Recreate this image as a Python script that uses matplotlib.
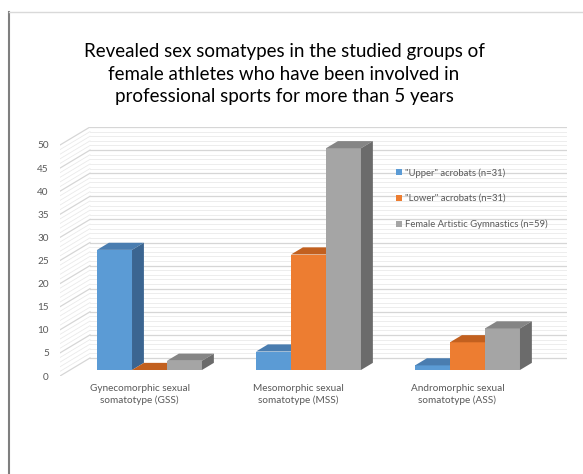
import matplotlib.pyplot as plt
from matplotlib.patches import Polygon, Patch
from matplotlib.lines import Line2D

plt.rcParams['font.family'] = ['Lato', 'DejaVu Sans']

categories = ['Gynecomorphic sexual\nsomatotype (GSS)',
              'Mesomorphic sexual\nsomatotype (MSS)',
              'Andromorphic sexual\nsomatotype (ASS)']
series = ['"Upper" acrobats (n=31)', '"Lower" acrobats (n=31)',
          'Female Artistic Gymnastics (n=59)']
upper = [26, 4, 1]
lower = [0, 25, 6]
gymnasts = [2, 48, 9]
yticks = list(range(0, 51, 5))

front_c = ['#5B9BD5', '#ED7D31', '#A5A5A5']
top_c = ['#4A7DB0', '#C2601F', '#858585']
side_c = ['#3B6591', '#A8521B', '#6B6B6B']
txt = '#595959'

W, H = 583, 474
fig = plt.figure(figsize=(W / 100, H / 100), dpi=100)
fig.patch.set_facecolor('white')

# axes covers front-left corner (60, 376) to back wall top-right (567, 127)
ax = fig.add_axes([60 / W, (H - 376) / H, 507 / W, 249 / H])
pxx = 159.0          # px per category
pxy = 231.0 / 50     # px per value unit
ax.set_xlim(-0.5, -0.5 + 507 / pxx)
ax.set_ylim(0, 249 / pxy)
for s in ax.spines.values():
    s.set_visible(False)

dx, dy = 30 / pxx, 18 / pxy          # full depth offset
f0, f1 = 1 / 3, 0.73                 # bar front/back depth fraction
xr = 2.5 + dx

# walls: gridlines
for v in range(0, 51):
    major = v % 5 == 0
    col = '#D6D6D6' if major else '#EAEAEA'
    lw = 0.9 if major else 0.6
    ax.plot([-0.5, -0.5 + dx], [v, v + dy], color=col, lw=lw, zorder=1)
    ax.plot([-0.5 + dx, xr], [v + dy, v + dy], color=col, lw=lw, zorder=1)

# bars with oblique 3D faces
data = [upper, lower, gymnasts]
bw = 0.22
ddx, ddy = dx * (f1 - f0), dy * (f1 - f0)
z = 3
for i in range(len(categories)):
    for j, vals in enumerate(data):
        h = vals[i]
        x0 = i - 1.5 * bw + j * bw + dx * f0
        b = dy * f0
        ax.bar(x0, h, width=bw, bottom=b, align='edge', color=front_c[j],
               lw=0, zorder=z)
        ax.add_patch(Polygon([(x0, b + h), (x0 + bw, b + h),
                              (x0 + bw + ddx, b + h + ddy), (x0 + ddx, b + h + ddy)],
                             closed=True, fc=top_c[j], lw=0, zorder=z))
        ax.add_patch(Polygon([(x0 + bw, b), (x0 + bw + ddx, b + ddy),
                              (x0 + bw + ddx, b + h + ddy), (x0 + bw, b + h)],
                             closed=True, fc=side_c[j], lw=0, zorder=z))
        z += 1

ax.set_yticks(yticks)
ax.set_yticklabels([str(t) for t in yticks])
ax.set_xticks(range(len(categories)))
ax.set_xticklabels(categories, linespacing=1.3)
ax.tick_params(axis='y', length=0, pad=8, labelsize=7.2, labelcolor=txt)
ax.tick_params(axis='x', length=0, pad=6, labelsize=7.2, labelcolor=txt)

# legend
handles = [Patch(fc=c, ec='none') for c in front_c]
fig.legend(handles, series, loc='upper left', bbox_to_anchor=(396 / W, 1 - 168 / H),
           frameon=False, fontsize=6.8, labelcolor=txt, handlelength=0.6,
           handleheight=0.6, handletextpad=0.4, labelspacing=1.75,
           borderaxespad=0, borderpad=0)

# title
fig.text(284 / W, 1 - 74 / H,
         'Revealed sex somatypes in the studied groups of\n'
         'female athletes who have been involved in\n'
         'professional sports for more than 5 years',
         ha='center', va='center', fontsize=13.5, color='black',
         linespacing=1.38)

# chart border
fig.add_artist(Line2D([8.5 / W, 8.5 / W], [0, 1 - 12 / H], color='#7F7F7F', lw=1.5))
fig.add_artist(Line2D([8.5 / W, 1], [1 - 12 / H, 1 - 12 / H], color='#D9D9D9', lw=1))

fig.savefig('out.png', dpi=100)
